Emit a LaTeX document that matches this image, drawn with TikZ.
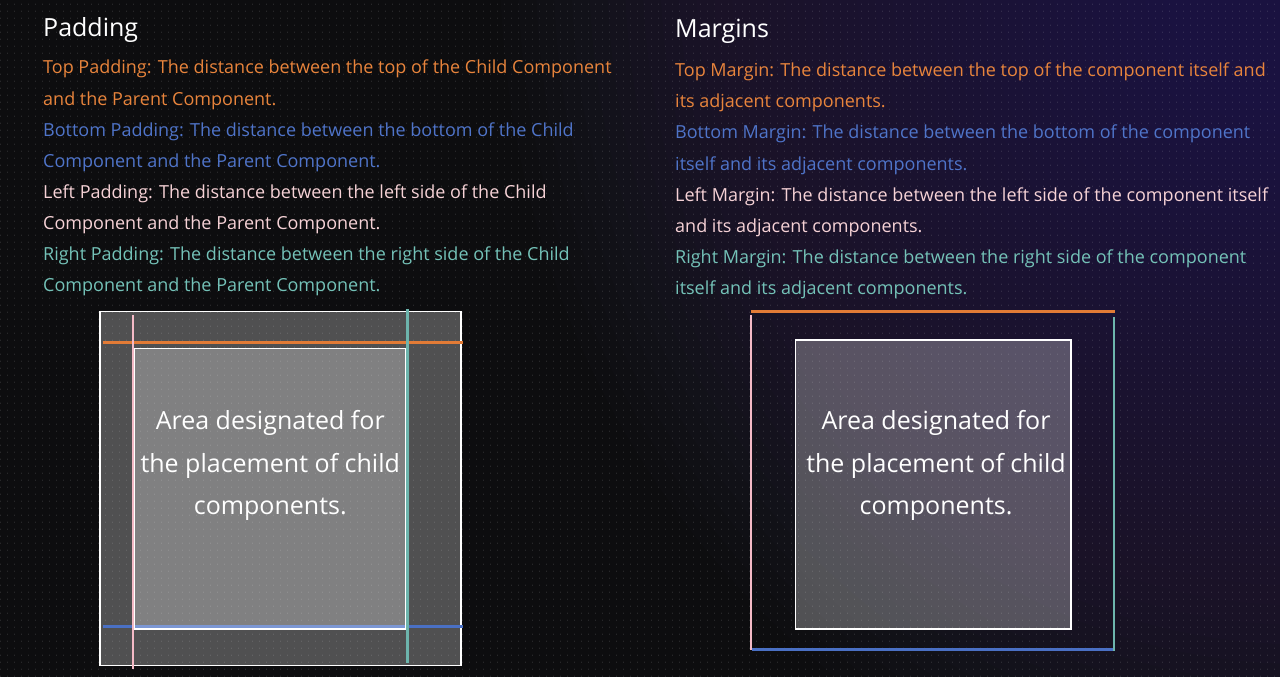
\documentclass[tikz,border=0pt]{standalone}
\usepackage{fontspec}
\setmainfont{Open Sans}
\usetikzlibrary{patterns.meta}

\definecolor{bgdark}{HTML}{0D0D0F}
\definecolor{glowCol}{HTML}{362E5C}
\definecolor{txtOrange}{HTML}{E8843C}
\definecolor{txtBlue}{HTML}{4F74C9}
\definecolor{txtPink}{HTML}{F6D2D6}
\definecolor{txtTeal}{HTML}{74C2B8}
\definecolor{lnOrange}{HTML}{E27B36}
\definecolor{lnBlue}{HTML}{4A70C4}
\definecolor{lnPink}{HTML}{F4BAC6}
\definecolor{lnTeal}{HTML}{6DB5AD}

% fine dot grid of the canvas
\tikzdeclarepattern{
  name=dotgrid,
  type=uncolored,
  bounding box={(0pt,0pt) and (6.5pt,6.5pt)},
  tile size={(6.5pt,6.5pt)},
  code={\pgfpathrectangle{\pgfpoint{0pt}{0pt}}{\pgfpoint{1pt}{1.5pt}}\pgfusepath{fill}}
}

\tikzset{
  title/.style={anchor=base west, inner sep=0pt, text=white, font=\fontsize{25}{29}\selectfont},
  desc/.style={anchor=base west, inner sep=0pt, font=\fontsize{18}{22}\selectfont},
  boxtext/.style={anchor=base, inner sep=0pt, text=white, font=\fontsize{25}{30}\selectfont},
  panel/.style={draw=white, line width=1.5pt, fill=white, fill opacity=0.28,
    text opacity=1, inner sep=0pt},
  guide/.style={line width=2.5pt},
}

\begin{document}
\begin{tikzpicture}[x=1pt, y=-1pt]
\useasboundingbox (0,0) rectangle (1280,677);

% canvas with a soft violet glow in the upper right corner
\fill[bgdark] (0,0) rectangle (1280,677);
\begin{scope}
  \clip (0,0) rectangle (1280,677);
  \foreach \i in {0,...,44} {
    \fill[glowCol, fill opacity=0.035]
      (1300,-40) ellipse [x radius={800*(1-\i/45)}, y radius={880*(1-\i/45)}];
  }
\end{scope}
\fill[pattern=dotgrid, pattern color=white, fill opacity=0.11] (0,0) rectangle (1280,677);

% ---------------- Padding ----------------
\node[title] (padTitle) at (43,37) {Padding};
\node[desc, text=txtOrange] (padTopA) at (43,74) {Top Padding: The distance between the top of the Child Component};
\node[desc, text=txtOrange] (padTopB) at (43,105.1) {and the Parent Component.};
\node[desc, text=txtBlue] (padBotA) at (43,136.2) {Bottom Padding: The distance between the bottom of the Child};
\node[desc, text=txtBlue] (padBotB) at (43,167.3) {Component and the Parent Component.};
\node[desc, text=txtPink] (padLeftA) at (43,198.4) {Left Padding: The distance between the left side of the Child};
\node[desc, text=txtPink] (padLeftB) at (43,229.5) {Component and the Parent Component.};
\node[desc, text=txtTeal] (padRightA) at (43,260.6) {Right Padding: The distance between the right side of the Child};
\node[desc, text=txtTeal] (padRightB) at (43,291.7) {Component and the Parent Component.};

% parent component
\node[panel, minimum width=361pt, minimum height=354pt] (parent) at (280.5,488.5) {};

% bottom padding guide (runs under the child area)
\coordinate (pbA) at (102.7,626.7);
\coordinate (pbB) at (463,626.7);
\draw[guide, lnBlue] (pbA) -- (pbB);

% child component area
\node[panel, minimum width=271.5pt, minimum height=280.5pt] (child) at (270.25,488.75) {};
\node[boxtext] (childA) at (270.25,429.5) {Area designated for};
\node[boxtext] (childB) at (270.25,472) {the placement of child};
\node[boxtext] (childC) at (270.25,514.5) {components.};

% padding guides
\coordinate (ptA) at (102.7,342.3);
\coordinate (ptB) at (463,342.3);
\coordinate (plA) at (132.7,315);
\coordinate (plB) at (132.7,669);
\coordinate (prA) at (407.3,309);
\coordinate (prB) at (407.3,663);
\draw[guide, lnOrange] (ptA) -- (ptB);
\draw[guide, lnPink, line width=2pt] (plA) -- (plB);
\draw[guide, lnTeal] (prA) -- (prB);

% ---------------- Margins ----------------
\node[title] (marTitle) at (675,37.5) {Margins};
\node[desc, text=txtOrange] (marTopA) at (675,76.7) {Top Margin: The distance between the top of the component itself and};
\node[desc, text=txtOrange] (marTopB) at (675,107.8) {its adjacent components.};
\node[desc, text=txtBlue] (marBotA) at (675,138.9) {Bottom Margin: The distance between the bottom of the component};
\node[desc, text=txtBlue] (marBotB) at (675,170) {itself and its adjacent components.};
\node[desc, text=txtPink] (marLeftA) at (675,201.1) {Left Margin: The distance between the left side of the component itself};
\node[desc, text=txtPink] (marLeftB) at (675,232.2) {and its adjacent components.};
\node[desc, text=txtTeal] (marRightA) at (675,263.3) {Right Margin: The distance between the right side of the component};
\node[desc, text=txtTeal] (marRightB) at (675,294.4) {itself and its adjacent components.};

% the component itself
\node[panel, minimum width=275.5pt, minimum height=289pt] (comp) at (933.25,484.5) {};
\node[boxtext] (compA) at (936,429.5) {Area designated for};
\node[boxtext] (compB) at (936,472) {the placement of child};
\node[boxtext] (compC) at (936,514.5) {components.};

% margin guides
\coordinate (mtA) at (751,311.7);
\coordinate (mtB) at (1114.5,311.7);
\coordinate (mlA) at (751.3,315);
\coordinate (mlB) at (751.3,650);
\coordinate (mrA) at (1114,317);
\coordinate (mrB) at (1114,651);
\coordinate (mbA) at (751.7,649.3);
\coordinate (mbB) at (1114,649.3);
\draw[guide, lnOrange] (mtA) -- (mtB);
\draw[guide, lnBlue] (mbA) -- (mbB);
\draw[guide, lnPink, line width=2pt] (mlA) -- (mlB);
\draw[guide, lnTeal] (mrA) -- (mrB);
\end{tikzpicture}
\end{document}
